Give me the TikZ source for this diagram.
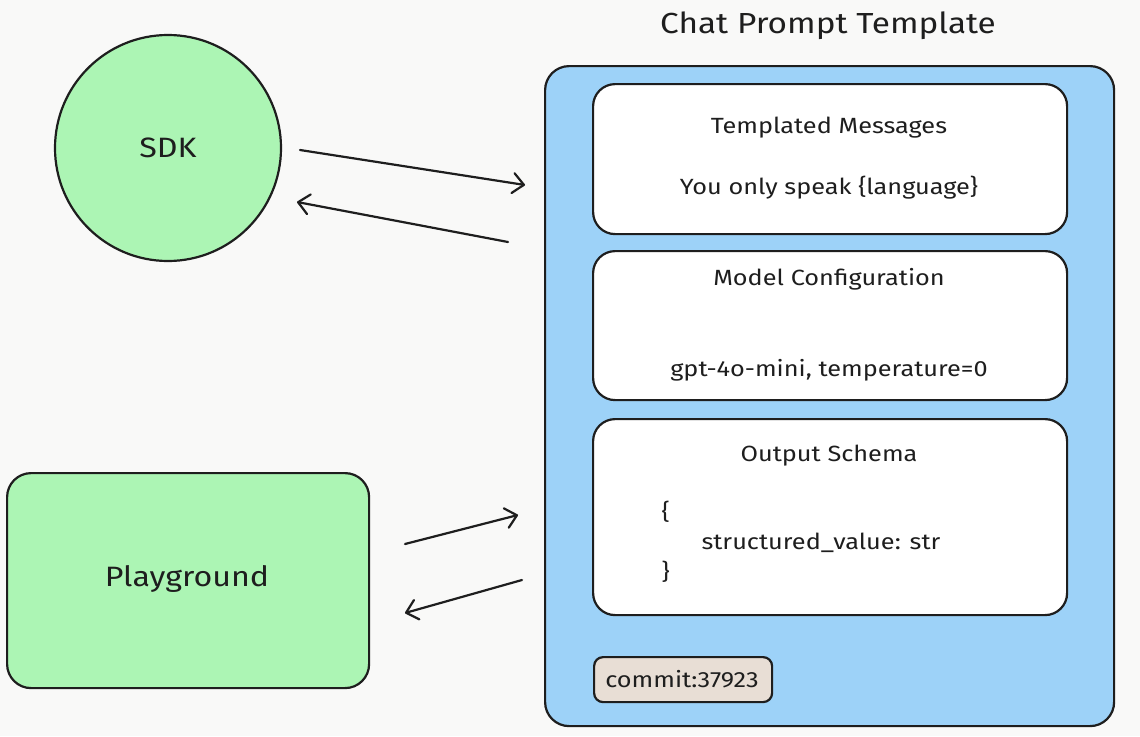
\documentclass[tikz,border=0pt]{standalone}
\usepackage{fontspec}
\setmainfont[FakeStretch=1.15]{Fira Sans}
\usetikzlibrary{arrows.meta}
\definecolor{bgc}{HTML}{F9F9F8}
\definecolor{greenc}{HTML}{ACF5B4}
\definecolor{bluec}{HTML}{9DD2F8}
\definecolor{commitc}{HTML}{E8DED5}
\definecolor{inkc}{HTML}{1E1E1E}
\tikzset{
  sk/.style={draw=inkc, line width=2.2pt},
  inner/.style={sk, fill=white, rounded corners=22pt, minimum width=474pt, anchor=north west},
  lbl/.style={font=\fontsize{22}{26}\selectfont, text=inkc},
  arr/.style={draw=inkc, line width=2.2pt, line cap=round, -{Straight Barb[length=11pt,width=20pt,line width=2.2pt,round]}},
}
\begin{document}
\begin{tikzpicture}[x=1pt,y=-1pt]
\path[fill=bgc] (0,0) rectangle (1140,736);
\useasboundingbox (0,0) rectangle (1140,736);

% SDK
\node[sk, circle, fill=greenc, minimum size=226pt, inner sep=0pt] (sdk) at (168,148) {};
\node[lbl, font=\fontsize{28}{32}\selectfont] (sdkt) at (168,148) {SDK};

% Playground
\node[sk, fill=greenc, rounded corners=24pt, minimum width=362pt, minimum height=215pt, anchor=north west] (pg) at (6,472) {};
\node[lbl, font=\fontsize{28}{32}\selectfont] (pgt) at (187,579) {Playground};

% Chat Prompt Template
\node[lbl, font=\fontsize{29}{34}\selectfont] (title) at (828,26) {Chat Prompt Template};
\node[sk, fill=bluec, rounded corners=24pt, minimum width=569pt, minimum height=660pt, anchor=north west] (cpt) at (544,65) {};

% Templated messages
\node[inner, minimum height=150pt] (tm) at (592,83) {};
\node[lbl] (tmt) at (829,128) {Templated Messages};
\node[lbl] (tmb) at (829,188) {You only speak \{language\}};

% Model configuration
\node[inner, minimum height=149pt] (mc) at (592,250) {};
\node[lbl] (mct) at (829,279) {Model Configuration};
\node[lbl] (mcb) at (829,370) {gpt-4o-mini, temperature=0};

% Output schema
\node[inner, minimum height=196pt] (os) at (592,418) {};
\node[lbl] (ost) at (829,456) {Output Schema};
\node[lbl, anchor=west] (ob1) at (658,512) {\{};
\node[lbl, anchor=west] (ob2) at (698,543) {structured\_value: str};
\node[lbl, anchor=west] (ob3) at (658,572) {\}};

% commit
\node[sk, fill=commitc, rounded corners=9pt, minimum width=178pt, minimum height=45pt, anchor=north west] (cm) at (593,656) {};
\node[lbl, font=\fontsize{22}{26}\selectfont] (cmt) at (682,679) {commit:37923};

% arrows
\coordinate (a1s) at (300,150); \coordinate (a1e) at (525,185);
\coordinate (a2s) at (508,242); \coordinate (a2e) at (297,202);
\coordinate (a3s) at (405,544); \coordinate (a3e) at (518,515);
\coordinate (a4s) at (522,580); \coordinate (a4e) at (405,613);
\draw[arr] (a1s) -- (a1e);
\draw[arr] (a2s) -- (a2e);
\draw[arr] (a3s) -- (a3e);
\draw[arr] (a4s) -- (a4e);
\end{tikzpicture}
\end{document}
